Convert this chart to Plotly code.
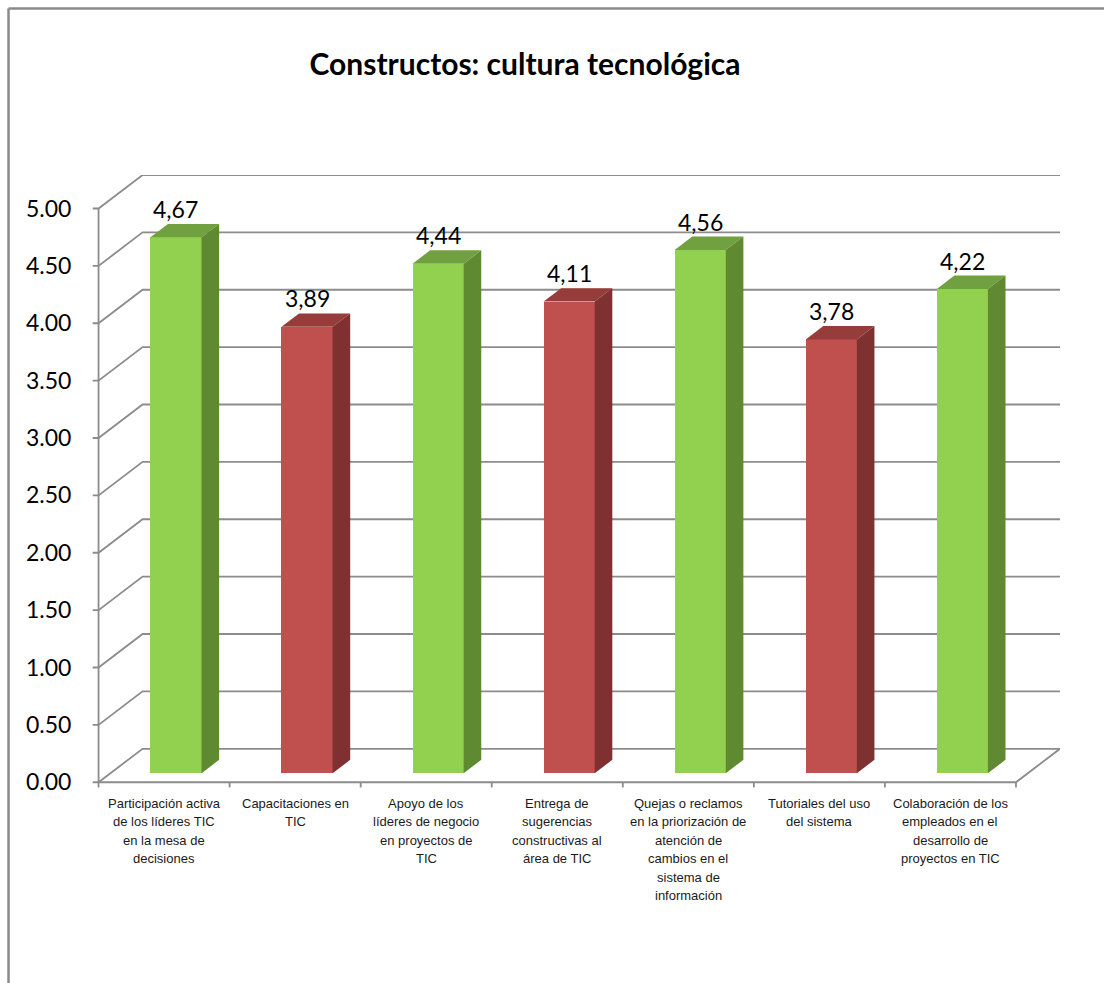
import plotly.graph_objects as go

# ---- data ----
categories = [
    "Participación activa<br>de los líderes TIC<br>en la mesa de<br>decisiones",
    "Capacitaciones en<br>TIC",
    "Apoyo de los<br>líderes de negocio<br>en proyectos de<br>TIC",
    "Entrega de<br>sugerencias<br>constructivas al<br>área de TIC",
    "Quejas o reclamos<br>en la priorización de<br>atención de<br>cambios en el<br>sistema de<br>información",
    "Tutoriales del uso<br>del sistema",
    "Colaboración de los<br>empleados en el<br>desarrollo de<br>proyectos en TIC",
]
values = [4.67, 3.89, 4.44, 4.11, 4.56, 3.78, 4.22]
value_labels = ["4,67", "3,89", "4,44", "4,11", "4,56", "3,78", "4,22"]
y_ticks = [0.0, 0.5, 1.0, 1.5, 2.0, 2.5, 3.0, 3.5, 4.0, 4.5, 5.0]
y_tick_labels = ["0.00", "0.50", "1.00", "1.50", "2.00", "2.50", "3.00", "3.50", "4.00", "4.50", "5.00"]
tone = ["green", "red", "green", "red", "green", "red", "green"]

# ---- styling / pseudo-3D geometry ----
W, H = 1104, 983
PX_X, PX_Y = 131.0, 114.8          # pixels per category / per value unit
X0_PX, Y0_PX = 99.0, 782.0         # front-axis origin in pixels
DX, DY = 44.0 / PX_X, 33.5 / PX_Y  # full depth of the box in data units
PAD = 0.05

FRONT_F, DEPTH_F = 0.27, 0.40      # bar placement within the depth
BAR_W = 0.39
bx_shift, base = FRONT_F * DX, FRONT_F * DY
bdx, bdy = DEPTH_F * DX, DEPTH_F * DY

palette = {
    "green": dict(front="#92D050", top="#70A040", side="#5F8A32"),
    "red": dict(front="#C0504D", top="#963C3A", side="#7E3130"),
}
grid_col = "#8C8C8C"
num_font = "Lato, 'Open Sans', sans-serif"

n = len(categories)
x_range = [-PAD, n + DX]
y_range = [-PAD, 5 + DY]
m_l = X0_PX - PAD * PX_X
m_r = W - (X0_PX + n * PX_X + DX * PX_X)
m_b = H - (Y0_PX + PAD * PX_Y)
m_t = Y0_PX - (5 + DY) * PX_Y

fig = go.Figure()

centers = [i + 0.5 + bx_shift for i in range(n)]
fig.add_trace(go.Bar(
    x=centers, y=values, base=[base] * n, width=BAR_W,
    marker=dict(color=[palette[t]["front"] for t in tone], line=dict(width=0)),
    hoverinfo="skip", showlegend=False,
))

# top and side faces of each bar
for c, v, t in zip(centers, values, tone):
    L, R = c - BAR_W / 2, c + BAR_W / 2
    top = base + v
    fig.add_trace(go.Scatter(
        x=[L, R, R + bdx, L + bdx, L], y=[top, top, top + bdy, top + bdy, top],
        mode="lines", fill="toself", fillcolor=palette[t]["top"],
        line=dict(width=0), hoverinfo="skip", showlegend=False,
    ))
    fig.add_trace(go.Scatter(
        x=[R, R + bdx, R + bdx, R, R], y=[base, base + bdy, top + bdy, top, base],
        mode="lines", fill="toself", fillcolor=palette[t]["side"],
        line=dict(width=0), hoverinfo="skip", showlegend=False,
    ))

shapes = []
line_style = dict(color=grid_col, width=1.8)
# gridlines: tick, diagonal on the left wall, horizontal on the back wall
for v in y_ticks:
    path = (f"M {-0.045} {v} L 0 {v} L {DX} {v + DY} L {n + DX} {v + DY}")
    shapes.append(dict(type="path", path=path, xref="x", yref="y",
                       line=line_style, layer="below"))
# front vertical axis
shapes.append(dict(type="line", xref="x", yref="y", x0=0, x1=0, y0=0, y1=5,
                   line=line_style, layer="below"))
# floor front edge and right edge
shapes.append(dict(type="path", xref="x", yref="y",
                   path=f"M 0 0 L {n} 0 L {n + DX} {DY}",
                   line=line_style, layer="below"))
# category separators on the front axis
for k in range(n + 1):
    shapes.append(dict(type="line", xref="x", yref="y", x0=k, x1=k,
                       y0=0, y1=-0.045, line=line_style, layer="below"))

# outer chart border (top and left)
pw = W - m_l - m_r
ph = H - m_t - m_b
def px_to_paper_x(px):
    return (px - m_l) / pw
def px_to_paper_y(py):
    return (H - m_b - py) / ph
border = dict(color="#8A8A8A", width=2.5)
shapes.append(dict(type="line", xref="paper", yref="paper",
                   x0=px_to_paper_x(9), x1=px_to_paper_x(W + 5),
                   y0=px_to_paper_y(8), y1=px_to_paper_y(8), line=border))
shapes.append(dict(type="line", xref="paper", yref="paper",
                   x0=px_to_paper_x(9), x1=px_to_paper_x(9),
                   y0=px_to_paper_y(8), y1=px_to_paper_y(H + 5), line=border))

annotations = []
# value labels above each bar
for c, v, lab in zip(centers, values, value_labels):
    annotations.append(dict(
        x=c, y=base + v + bdy, xref="x", yref="y", text=lab, showarrow=False,
        xanchor="center", yanchor="bottom", yshift=-1,
        font=dict(family=num_font, size=23, color="#000000"),
    ))
# category labels, one line at a time
for i, cat in enumerate(categories):
    for j, line in enumerate(cat.split("<br>")):
        annotations.append(dict(
            x=i + 0.5, y=0, xref="x", yref="y", text=line, showarrow=False,
            xanchor="center", yanchor="middle", yshift=-(21 + 18.5 * j),
            font=dict(family="'Liberation Sans', Arial, sans-serif", size=13, color="#1a1a1a"),
        ))

fig.update_layout(
    width=W, height=H,
    margin=dict(l=m_l, r=m_r, t=m_t, b=m_b, pad=0),
    paper_bgcolor="white", plot_bgcolor="white",
    title=dict(text="<b>Constructos: cultura tecnológica</b>",
               x=525 / W, y=1 - 64 / H, xref="container", yref="container",
               xanchor="center", yanchor="middle",
               font=dict(family=num_font, size=30, color="#000000")),
    xaxis=dict(range=x_range, showgrid=False, zeroline=False, showline=False,
               showticklabels=False, ticks="", fixedrange=True),
    yaxis=dict(range=y_range, showgrid=False, zeroline=False, showline=False,
               tickmode="array", tickvals=y_ticks, ticktext=y_tick_labels,
               ticks="outside", ticklen=15, tickcolor="rgba(0,0,0,0)",
               tickfont=dict(family=num_font, size=23, color="#000000"),
               fixedrange=True),
    shapes=shapes, annotations=annotations,
    showlegend=False, bargap=0,
)

fig.write_html("out.html")
